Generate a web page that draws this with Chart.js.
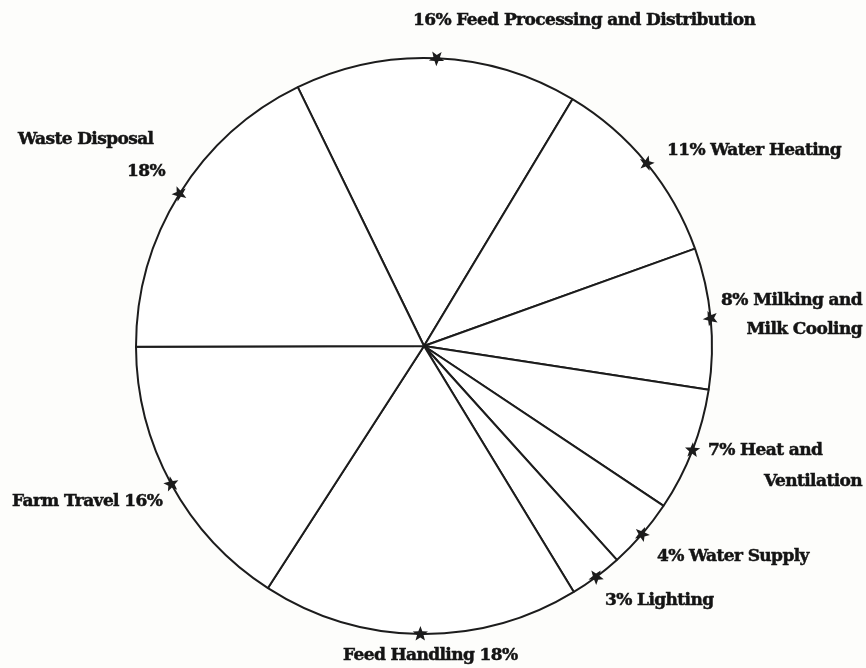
<!DOCTYPE html>
<html lang="en">
<head>
  <meta charset="UTF-8">
  <title>Farm Energy Use</title>
  <script src="https://cdn.jsdelivr.net/npm/chart.js"></script>
  <style>
    body {
      margin: 0;
      background-color: #fdfdfb;
    }
    #wrap {
      width: 866px;
      height: 668px;
    }
  </style>
</head>
<body>
  <div id="wrap"><canvas id="pie" width="866" height="668"></canvas></div>

  <script>
    // ---------------- Data ---------------- //
    const categories = [
      'Feed Processing and Distribution', 'Water Heating', 'Milking and Milk Cooling',
      'Heat and Ventilation', 'Water Supply', 'Lighting',
      'Feed Handling', 'Farm Travel', 'Waste Disposal'
    ];
    const shares = [16, 11, 8, 7, 4, 3, 18, 16, 18];

    // label text lines for each slice (same order as above)
    const labelLines = [
      ['16% Feed Processing and Distribution'],
      ['11% Water Heating'],
      ['8% Milking and', 'Milk Cooling'],
      ['7% Heat and', 'Ventilation'],
      ['4% Water Supply'],
      ['3% Lighting'],
      ['Feed Handling 18%'],
      ['Farm Travel 16%'],
      ['Waste Disposal', '18%']
    ];

    // ---------------- Layout (label offsets from the pie centre) ---------------- //
    const labelPlacement = [
      [{ dx: -11, dy: -325, align: 'left' }],
      [{ dx: 243, dy: -195, align: 'left' }],
      [{ dx: 438, dy: -45, align: 'right' }, { dx: 438, dy: -16, align: 'right' }],
      [{ dx: 284, dy: 105, align: 'left' }, { dx: 438, dy: 136, align: 'right' }],
      [{ dx: 233, dy: 211, align: 'left' }],
      [{ dx: 181, dy: 255, align: 'left' }],
      [{ dx: -81, dy: 310, align: 'left' }],
      [{ dx: -412, dy: 156, align: 'left' }],
      [{ dx: -406, dy: -206, align: 'left' }, { dx: -297, dy: -174, align: 'left' }]
    ];

    const ink = '#1c1c1c';
    const textInk = '#141414';
    const labelFont = 'bold 17px "DejaVu Serif", serif';

    function drawStar(ctx, x, y, angle) {
      const outer = 8, inner = 3.4;
      ctx.save();
      ctx.translate(x, y);
      ctx.rotate(angle);
      ctx.beginPath();
      for (let i = 0; i < 10; i++) {
        const r = i % 2 === 0 ? outer : inner;
        const a = i * Math.PI / 5;
        ctx.lineTo(r * Math.cos(a), r * Math.sin(a));
      }
      ctx.closePath();
      ctx.fillStyle = ink;
      ctx.fill();
      ctx.restore();
    }

    // markers on the rim + outside labels
    const rimLabels = {
      id: 'rimLabels',
      afterDatasetsDraw(chart) {
        const ctx = chart.ctx;
        const arcs = chart.getDatasetMeta(0).data;
        ctx.save();
        ctx.font = labelFont;
        ctx.letterSpacing = '-0.6px';
        ctx.fillStyle = textInk;
        ctx.strokeStyle = textInk;
        ctx.lineWidth = 0.5;
        ctx.textBaseline = 'middle';
        arcs.forEach((arc, i) => {
          const mid = (arc.startAngle + arc.endAngle) / 2;
          const mx = arc.x + Math.cos(mid) * arc.outerRadius;
          const my = arc.y + Math.sin(mid) * arc.outerRadius;
          drawStar(ctx, mx, my, mid + Math.PI);
          labelLines[i].forEach((txt, j) => {
            const p = labelPlacement[i][j];
            ctx.textAlign = p.align;
            ctx.fillText(txt, arc.x + p.dx, arc.y + p.dy);
            ctx.strokeText(txt, arc.x + p.dx, arc.y + p.dy);
          });
        });
        ctx.restore();
      }
    };

    new Chart(document.getElementById('pie'), {
      type: 'pie',
      data: {
        labels: categories,
        datasets: [{
          data: shares,
          backgroundColor: '#ffffff',
          borderColor: ink,
          borderWidth: 2
        }]
      },
      options: {
        responsive: false,
        animation: false,
        rotation: -26,
        layout: { padding: { left: 135, right: 153, top: 57, bottom: 33 } },
        plugins: {
          legend: { display: false },
          tooltip: { enabled: false }
        }
      },
      plugins: [rimLabels]
    });
  </script>
</body>
</html>
